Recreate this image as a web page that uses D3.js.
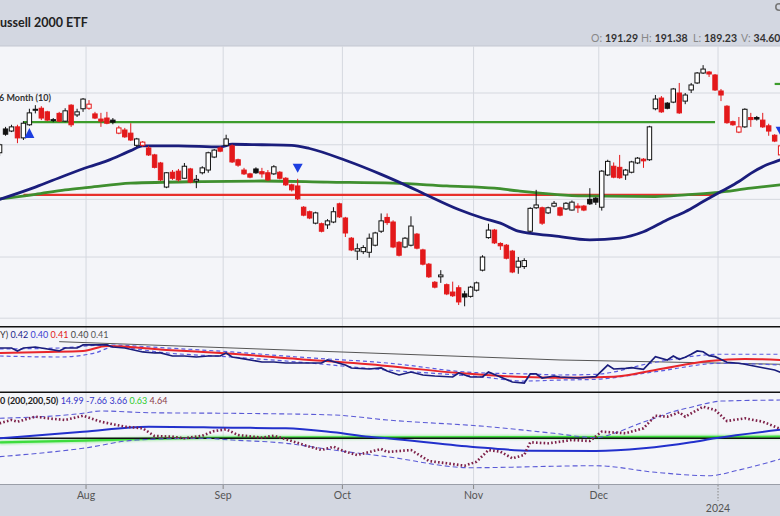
<!DOCTYPE html>
<html><head><meta charset="utf-8">
<script src="https://cdn.jsdelivr.net/npm/d3@7"></script>
<style>html,body{margin:0;padding:0;background:#fff;}svg{display:block;font-family:Lato,"Open Sans",sans-serif;}</style>
</head><body><svg id="c" width="780" height="516"></svg>
<script>
// ---------------- DATA ----------------
const dates = ["2023-07-11","2023-07-12","2023-07-13","2023-07-14","2023-07-17","2023-07-18","2023-07-19","2023-07-20","2023-07-21","2023-07-24","2023-07-25","2023-07-26","2023-07-27","2023-07-28","2023-07-31",
"2023-08-01","2023-08-02","2023-08-03","2023-08-04","2023-08-07","2023-08-08","2023-08-09","2023-08-10","2023-08-11","2023-08-14","2023-08-15","2023-08-16","2023-08-17","2023-08-18","2023-08-21","2023-08-22","2023-08-23","2023-08-24","2023-08-25","2023-08-28","2023-08-29","2023-08-30","2023-08-31",
"2023-09-01","2023-09-05","2023-09-06","2023-09-07","2023-09-08","2023-09-11","2023-09-12","2023-09-13","2023-09-14","2023-09-15","2023-09-18","2023-09-19","2023-09-20","2023-09-21","2023-09-22","2023-09-25","2023-09-26","2023-09-27","2023-09-28","2023-09-29",
"2023-10-02","2023-10-03","2023-10-04","2023-10-05","2023-10-06","2023-10-09","2023-10-10","2023-10-11","2023-10-12","2023-10-13","2023-10-16","2023-10-17","2023-10-18","2023-10-19","2023-10-20","2023-10-23","2023-10-24","2023-10-25","2023-10-26","2023-10-27","2023-10-30","2023-10-31",
"2023-11-01","2023-11-02","2023-11-03","2023-11-06","2023-11-07","2023-11-08","2023-11-09","2023-11-10","2023-11-13","2023-11-14","2023-11-15","2023-11-16","2023-11-17","2023-11-20","2023-11-21","2023-11-22","2023-11-24","2023-11-27","2023-11-28","2023-11-29","2023-11-30",
"2023-12-01","2023-12-04","2023-12-05","2023-12-06","2023-12-07","2023-12-08","2023-12-11","2023-12-12","2023-12-13","2023-12-14","2023-12-15","2023-12-18","2023-12-19","2023-12-20","2023-12-21","2023-12-22","2023-12-26","2023-12-27","2023-12-28","2023-12-29",
"2024-01-02","2024-01-03","2024-01-04","2024-01-05","2024-01-08","2024-01-09","2024-01-10","2024-01-11","2024-01-12","2024-01-16","2024-01-17"];

const open = [188.5,193.0,192.6,193.4,191.3,193.8,196.6,197.0,196.3,194.7,
196.0,194.5,197.6,195.7,196.9,197.0,195.9,194.9,195.1,194.7,
192.2,192.8,192.2,189.9,189.9,189.4,188.1,186.6,182.2,184.9,
185.1,183.8,185.5,183.3,184.8,185.3,187.7,189.4,189.9,189.8,
187.2,185.3,184.6,185.5,185.0,184.8,184.6,184.9,183.8,182.6,
182.4,178.6,177.8,175.8,175.7,175.5,176.0,179.2,176.7,173.2,
171.0,170.9,170.8,172.0,174.4,176.8,176.0,172.5,171.7,172.0,
173.9,171.2,168.8,165.8,166.7,165.4,164.2,164.9,163.9,163.5,
164.5,167.8,173.3,174.6,172.3,172.0,171.0,168.3,168.4,174.4,
178.5,178.5,177.6,178.8,178.5,178.3,178.1,178.8,178.8,180.0,
180.2,178.6,184.4,186.0,185.8,184.4,184.9,186.6,187.3,187.2,
196.9,199.0,198.0,198.2,200.0,198.4,200.6,202.0,204.0,204.2,
203.6,200.4,197.4,194.4,192.4,193.4,195.2,195.2,194.7,193.6,
191.8,188.1];
const high = [190.3,193.4,193.8,193.8,194.5,196.9,197.6,197.4,196.5,195.1,
196.3,197.0,197.8,196.9,199.0,198.6,196.3,196.1,196.3,195.1,
193.6,193.2,194.1,191.3,190.7,189.8,188.3,186.8,184.9,185.3,
185.5,186.6,185.7,184.4,186.0,188.7,189.2,189.7,191.9,190.1,
187.4,185.7,184.8,185.8,185.7,185.3,186.2,185.1,184.0,182.8,
183.7,178.8,178.0,177.8,175.9,176.5,178.6,179.4,176.9,173.4,
172.3,172.0,174.0,174.3,177.5,177.5,176.3,172.7,173.4,177.0,
174.1,171.4,169.0,166.0,167.8,165.6,165.9,165.3,164.4,165.2,
165.9,170.3,175.7,174.8,172.5,172.2,171.2,170.0,169.8,178.6,
181.7,178.7,178.7,179.7,178.7,179.5,179.8,179.3,179.0,182.0,
180.4,185.3,187.2,186.7,188.1,185.5,187.0,187.7,187.5,193.6,
199.6,199.4,198.2,201.0,202.0,200.0,202.0,204.2,205.6,204.4,
203.8,200.8,197.6,194.6,195.3,197.0,196.1,195.5,196.1,194.0,
192.0,190.2];
const low = [187.9,191.7,192.4,190.3,190.9,193.6,196.0,194.7,194.5,194.3,
194.3,194.3,193.4,195.3,196.3,196.7,194.9,193.4,193.9,193.9,
192.0,191.3,190.7,189.6,189.6,187.9,185.6,183.3,182.0,183.5,
183.2,183.7,182.9,182.0,184.5,184.8,187.5,188.6,189.8,186.6,
185.9,184.4,183.8,184.6,183.9,183.3,184.4,183.6,182.4,181.4,
179.9,177.0,176.5,175.6,174.2,174.8,175.8,176.7,173.4,171.0,
169.5,170.5,169.9,171.8,174.1,175.5,171.5,170.1,171.5,171.8,
171.3,168.6,166.5,164.8,165.7,163.7,163.4,162.1,161.9,163.3,
164.3,167.6,173.1,172.2,171.2,169.6,167.3,167.2,168.0,174.2,
178.3,175.5,177.4,178.6,177.0,178.1,178.0,177.6,177.9,179.0,
179.0,178.0,184.2,183.8,183.7,183.5,184.7,186.4,185.7,187.0,
196.6,196.1,196.8,198.0,195.9,197.8,200.0,201.8,203.8,203.2,
200.4,198.4,194.0,193.6,192.2,193.2,193.4,194.6,193.2,191.7,
190.5,187.9];
const close = [190.0,192.0,193.4,191.3,194.1,196.1,196.8,195.1,194.7,194.8,
194.5,196.5,193.8,196.3,198.8,197.8,195.1,194.5,194.1,194.3,
193.2,191.5,190.9,191.1,190.5,188.1,185.8,183.5,184.8,183.8,
183.5,186.0,183.1,183.6,185.7,188.5,189.0,188.8,191.1,186.8,
186.2,184.6,184.0,184.8,184.6,183.5,185.9,183.8,182.6,181.7,
180.1,177.2,176.7,177.6,174.4,176.2,177.8,176.9,174.1,171.2,
171.4,171.6,173.2,174.1,176.2,175.9,171.7,170.3,173.2,175.3,
171.5,168.8,166.7,165.0,167.0,163.9,163.6,162.6,163.4,165.0,
165.7,170.0,174.6,172.4,171.9,169.8,167.5,169.3,169.4,178.4,
179.0,175.8,178.5,179.3,177.2,179.3,179.5,178.5,178.1,179.2,
179.5,185.1,186.9,184.0,183.9,185.3,186.8,187.5,187.0,193.4,
198.8,196.3,197.0,200.8,196.1,199.6,201.6,204.0,204.8,203.8,
200.6,199.6,194.2,193.8,193.4,196.8,194.8,194.9,193.4,192.6,
190.7,189.8];

// moving averages on price (date, value)
const maBlue = [["2023-07-11",180.0],["2023-07-19",182.2],["2023-07-26",184.3],["2023-08-01",185.9],["2023-08-04",187.0],["2023-08-10",188.9],["2023-08-14",189.8],["2023-08-22",189.8],["2023-08-31",189.6],["2023-09-05",190.1],["2023-09-12",190.0],["2023-09-19",189.9],["2023-09-22",189.3],["2023-10-02",187.1],["2023-10-10",184.5],["2023-10-17",182.1],["2023-10-19",181.1],["2023-10-27",178.2],["2023-11-02",176.7],["2023-11-07",175.8],["2023-11-10",174.4],["2023-11-20",173.6],["2023-11-29",172.9],["2023-12-06",173.2],["2023-12-12",174.3],["2023-12-18",176.4],["2023-12-21",177.8],["2023-12-27",179.6],["2024-01-02",181.4],["2024-01-05",183.2],["2024-01-09",184.7],["2024-01-12",186.4],["2024-01-17",187.2]];
const maGreen = [["2023-07-11",180.06],["2023-07-19",180.9],["2023-07-26",181.7],["2023-08-01",182.15],["2023-08-10",182.9],["2023-08-28",183.2],["2023-09-12",183.3],["2023-09-27",183.1],["2023-10-12",182.9],["2023-10-25",182.4],["2023-11-06",182.0],["2023-11-10",181.5],["2023-11-28",180.6],["2023-12-14",180.5],["2023-12-21",180.8],["2023-12-29",181.2],["2024-01-09",182.0],["2024-01-17",182.6]];
// horizontal levels: [from, to, price, colour key]
const levels = [["2023-07-17","2023-12-29",194.3,"green"],["2023-07-17","2023-12-29",180.8,"red"],["2024-01-16","2024-01-17",201.8,"green"]];
// signal markers: [date, price, direction]
const markers = [["2023-07-18",193.2,"up"],["2023-09-20",184.8,"down"],["2024-01-17",191.7,"down"]];

// ratio panel (IWM:SPY)
const ratio = [["2023-07-11",.4304],["2023-07-13",.4304],["2023-07-14",.4269],["2023-07-17",.4304],["2023-07-19",.4316],["2023-07-20",.4304],["2023-07-25",.4269],["2023-07-26",.4304],["2023-07-28",.4304],["2023-07-31",.434],["2023-08-02",.434],["2023-08-04",.434],["2023-08-07",.4316],["2023-08-09",.4304],["2023-08-14",.4257],["2023-08-16",.4245],["2023-08-17",.4245],["2023-08-21",.4209],["2023-08-23",.4209],["2023-08-25",.4197],["2023-08-29",.4209],["2023-08-31",.4209],["2023-09-01",.4245],["2023-09-05",.4197],["2023-09-07",.4174],["2023-09-12",.4138],["2023-09-14",.4138],["2023-09-18",.4126],["2023-09-22",.4126],["2023-09-26",.4126],["2023-09-27",.4162],["2023-10-02",.4102],["2023-10-03",.4067],["2023-10-06",.4055],["2023-10-10",.4067],["2023-10-11",.4031],["2023-10-13",.3984],["2023-10-17",.4019],["2023-10-19",.3984],["2023-10-23",.3972],["2023-10-26",.396],["2023-10-27",.4007],["2023-10-31",.396],["2023-11-02",.396],["2023-11-03",.4019],["2023-11-07",.396],["2023-11-09",.3901],["2023-11-13",.3889],["2023-11-14",.3996],["2023-11-15",.3996],["2023-11-16",.3948],["2023-11-20",.3972],["2023-11-21",.396],["2023-11-27",.3948],["2023-11-29",.396],["2023-11-30",.3964],["2023-12-04",.4102],["2023-12-05",.4055],["2023-12-07",.4063],["2023-12-08",.407],["2023-12-12",.4051],["2023-12-14",.4201],["2023-12-18",.4162],["2023-12-19",.4209],["2023-12-20",.417],["2023-12-21",.4194],["2023-12-22",.4229],["2023-12-26",.4269],["2023-12-27",.426],["2023-12-28",.4213],["2023-12-29",.4201],["2024-01-03",.4135],["2024-01-05",.4123],["2024-01-08",.4111],["2024-01-11",.407],["2024-01-16",.4043],["2024-01-17",.4016]];
const ratioMA = [["2023-07-11",.4245],["2023-07-21",.4257],["2023-07-31",.4269],["2023-08-04",.4328],["2023-08-18",.4281],["2023-08-31",.4245],["2023-09-20",.4174],["2023-10-11",.4091],["2023-10-27",.4007],["2023-11-13",.396],["2023-11-21",.3952],["2023-12-05",.3964],["2023-12-14",.4043],["2023-12-28",.415],["2024-01-08",.4174],["2024-01-17",.4162]];
const ratioUpper = [["2023-07-11",.4292],["2023-07-25",.4304],["2023-08-04",.434],["2023-08-18",.4304],["2023-09-05",.4257],["2023-09-20",.4197],["2023-10-11",.4126],["2023-11-01",.4011],["2023-11-14",.3996],["2023-11-21",.3984],["2023-11-30",.3992],["2023-12-14",.4135],["2024-01-02",.423],["2024-01-17",.423]];
const ratioLower = [["2023-07-11",.4209],["2023-07-25",.4197],["2023-08-02",.4245],["2023-08-07",.4316],["2023-08-18",.4245],["2023-09-05",.4197],["2023-09-20",.4138],["2023-10-11",.4043],["2023-11-02",.396],["2023-11-13",.3912],["2023-11-21",.3924],["2023-11-30",.3933],["2023-12-14",.4023],["2024-01-02",.4123],["2024-01-17",.4102]];
const ratioTrend = [["2023-07-25",.4379],["2023-11-21",.4162],["2024-01-17",.4111]];
const ratioLabel = [["Y)","#333"],["0.42","#1b1f8a"],["0.40","#3b3bd0"],["0.41","#e02020"],["0.40","#444"],["0.41","#555"]];

// oscillator panel
const oscMain = [["2023-07-11",0],["2023-07-31",2.59],["2023-08-15",4.55],["2023-09-05",4.16],["2023-09-18",3.92],["2023-09-28",2.35],["2023-10-06",0.63],["2023-10-11",0],["2023-10-31",-3.29],["2023-11-14",-4.86],["2023-11-30",-4.98],["2023-12-12",-3.92],["2023-12-22",-1.57],["2023-12-29",0],["2024-01-17",3.4]];
const oscUpper = [["2023-07-11",7.84],["2023-07-31",9.8],["2023-08-03",10.71],["2023-08-15",10.04],["2023-09-05",9.8],["2023-09-28",9.14],["2023-10-11",7.18],["2023-11-03",4.55],["2023-11-20",1.96],["2023-11-30",0.24],["2023-12-06",2.7],["2023-12-11",5.5],["2023-12-14",8.0],["2023-12-19",10.5],["2023-12-22",12.2],["2023-12-28",13.9],["2024-01-02",14.6],["2024-01-17",15.0]];
const oscLower = [["2023-07-11",-7.22],["2023-07-31",-3.92],["2023-08-11",-0.67],["2023-08-28",0],["2023-09-05",-0.67],["2023-09-18",-1.96],["2023-09-28",-4.59],["2023-10-11",-7.22],["2023-10-31",-11.53],["2023-11-30",-10.75],["2023-12-14",-13.33],["2023-12-28",-14.67],["2024-01-05",-12.43],["2024-01-17",-8.12]];
const oscDotted = [["2023-07-11",5.88],["2023-07-13",7.18],["2023-07-14",6.51],["2023-07-19",8.47],["2023-07-21",7.84],["2023-07-26",7.18],["2023-07-31",8.86],["2023-08-03",6.51],["2023-08-09",4.55],["2023-08-14",3.92],["2023-08-16",0.9],["2023-08-21",0.63],["2023-08-23",0],["2023-08-28",1.02],["2023-08-30",2.86],["2023-09-01",3.53],["2023-09-06",1.29],["2023-09-12",0.24],["2023-09-14",1.02],["2023-09-19",-1.06],["2023-09-22",-3.29],["2023-09-26",-4.59],["2023-09-28",-3.29],["2023-10-02",-5.25],["2023-10-04",-6.55],["2023-10-10",-4.2],["2023-10-11",-5.37],["2023-10-17",-4.59],["2023-10-20",-8.9],["2023-10-25",-9.8],["2023-10-30",-10.75],["2023-11-01",-9.18],["2023-11-03",-4.59],["2023-11-07",-5.25],["2023-11-09",-7.84],["2023-11-13",-6.55],["2023-11-14",-1.57],["2023-11-17",-1.96],["2023-11-21",-1.33],["2023-11-24",-0.67],["2023-11-29",-1.06],["2023-12-01",2.59],["2023-12-07",1.96],["2023-12-12",3.92],["2023-12-14",8.86],["2023-12-18",8.47],["2023-12-20",10.2],["2023-12-21",8.47],["2023-12-27",12.39],["2023-12-29",11.1],["2024-01-03",6.78],["2024-01-08",7.84],["2024-01-11",6.51],["2024-01-17",3.65]];
const oscGreen = [["2023-07-11",-1.6],["2023-07-31",-0.9],["2023-08-28",0.2],["2023-10-11",0.4],["2023-11-30",0.5],["2024-01-17",0.63]];
const oscLabel = [["0 (200,200,50)","#222"],["14.99","#3434c8"],["-7.66","#3434c8"],["3.66","#3434c8"],["0.63","#2ecc2e"],["4.64","#8a3a4a"]];

const priceGrid = [160,170,180,190,200,210];
const ohlcHeader = [["O:","191.29"],["H:","191.38"],["L:","189.23"],["V:","34.60"]];
const title = "ussell 2000 ETF";
const levelLabel = "6 Month (10)";

// ---------------- CHART ----------------
const W=780,H=516;
const svg=d3.select("#c");
const parse=d3.timeParse("%Y-%m-%d");
const x=d3.scaleBand().domain(dates).range([-3.4,783.6]).padding(0);
const step=x.step();
const cx=d=>x(d)+step/2;
const bodyW=step*0.74;
const yM=d3.scaleLog().domain([160,200]).range([318.2,93]);
const yR=d3.scaleLinear().domain([0.38,0.44]).range([390.5,339.9]);
const yO=d3.scaleLinear().domain([-10,10]).range([463.8,412.8]);
const C={bg:"#f4f5f9",band:"#d3d7e1",grid:"#d5d8df",red:"#e3191b",black:"#111",navy:"#1a1d7c",green:"#3f8f2f",lvlGreen:"#3c9c2c",lvlRed:"#e8302c",tri:"#1c3ee0"};

svg.append("rect").attr("width",W).attr("height",H).attr("fill",C.band);
svg.append("rect").attr("x",0).attr("y",46).attr("width",W).attr("height",438).attr("fill",C.bg);
svg.append("line").attr("x1",0).attr("x2",W).attr("y1",46).attr("y2",46).attr("stroke","#c3c7d1");

const defs=svg.append("defs");
function clip(id,y0,y1){defs.append("clipPath").attr("id",id).append("rect").attr("x",0).attr("y",y0).attr("width",W).attr("height",y1-y0);}
clip("cm",46,326);clip("c1",327,391.5);clip("c2",392.5,484);
const blur=defs.append("filter").attr("id","glow").attr("x","-5%").attr("y","-50%").attr("width","110%").attr("height","200%");
blur.append("feGaussianBlur").attr("stdDeviation",1.1);

// month gridlines
const monthStarts=dates.filter((d,i)=>i>0&&parse(d).getMonth()!==parse(dates[i-1]).getMonth());
svg.append("g").selectAll("line").data(monthStarts).join("line")
  .attr("x1",d=>x(d)).attr("x2",d=>x(d)).attr("y1",46).attr("y2",484)
  .attr("stroke",C.grid).attr("stroke-width",1);

// ----- main panel -----
const gm=svg.append("g").attr("clip-path","url(#cm)");
gm.selectAll("line.h").data(priceGrid).join("line").attr("class","h")
  .attr("x1",0).attr("x2",W).attr("y1",d=>yM(d)).attr("y2",d=>yM(d)).attr("stroke",C.grid);

gm.selectAll("line.lvl").data(levels).join("line").attr("class","lvl")
  .attr("x1",d=>cx(d[0])).attr("x2",d=>d[1]===dates[dates.length-1]?W+5:cx(d[1]))
  .attr("y1",d=>yM(d[2])).attr("y2",d=>yM(d[2]))
  .attr("stroke",d=>d[3]==="green"?C.lvlGreen:C.lvlRed).attr("stroke-width",2.2);

const lineM=d3.line().x(d=>cx(d[0])).y(d=>yM(d[1])).curve(d3.curveMonotoneX);
gm.append("path").attr("d",lineM(maGreen)).attr("fill","none").attr("stroke",C.green).attr("stroke-width",2.8);
gm.append("path").attr("d",lineM(maBlue)).attr("fill","none").attr("stroke",C.navy).attr("stroke-width",2.8);

const idx=d3.range(dates.length);
const col=i=>(i>0&&close[i]<close[i-1])?C.red:C.black;
const cg=gm.append("g");
cg.selectAll("line").data(idx).join("line")
  .attr("x1",i=>cx(dates[i])).attr("x2",i=>cx(dates[i]))
  .attr("y1",i=>yM(high[i])).attr("y2",i=>yM(low[i]))
  .attr("stroke",col).attr("stroke-width",1);
cg.selectAll("rect").data(idx).join("rect")
  .attr("x",i=>cx(dates[i])-bodyW/2).attr("width",bodyW)
  .attr("y",i=>yM(Math.max(open[i],close[i])))
  .attr("height",i=>Math.max(1,Math.abs(yM(open[i])-yM(close[i]))))
  .attr("fill",i=>close[i]<open[i]?col(i):"#ffffff")
  .attr("stroke",col).attr("stroke-width",1);

gm.selectAll("path.tri").data(markers).join("path").attr("class","tri")
  .attr("d",d=>{const X=cx(d[0]),Y=yM(d[1]);return d[2]==="up"?`M${X},${Y}L${X-5},${Y+10}L${X+5},${Y+10}Z`:`M${X},${Y}L${X-5},${Y-9}L${X+5},${Y-9}Z`;})
  .attr("fill",C.tri);

svg.append("text").attr("x",-1).attr("y",101).attr("font-size",9).attr("font-weight",700).attr("fill","#333").text(levelLabel);

// ----- panel 1 -----
const g1=svg.append("g").attr("clip-path","url(#c1)");
const lineR=d3.line().x(d=>cx(d[0])).y(d=>yR(d[1]));
g1.append("path").attr("d",lineR(ratioTrend)).attr("fill","none").attr("stroke","#555").attr("stroke-width",1);
g1.append("path").attr("d",lineR.curve(d3.curveMonotoneX)(ratioUpper)).attr("fill","none").attr("stroke","#5b5be0").attr("stroke-width",1.2).attr("stroke-dasharray","4,3");
g1.append("path").attr("d",lineR.curve(d3.curveMonotoneX)(ratioLower)).attr("fill","none").attr("stroke","#5b5be0").attr("stroke-width",1.2).attr("stroke-dasharray","4,3");
g1.append("path").attr("d",lineR.curve(d3.curveMonotoneX)(ratioMA)).attr("fill","none").attr("stroke","#e8262b").attr("stroke-width",2);
g1.append("path").attr("d",lineR.curve(d3.curveLinear)(ratio)).attr("fill","none").attr("stroke",C.navy).attr("stroke-width",1.7);
const t1=svg.append("text").attr("x",0).attr("y",338).attr("font-size",9);
ratioLabel.forEach((d,i)=>t1.append("tspan").attr("fill",d[1]).text((i?" ":"")+d[0]));

// ----- panel 2 -----
const g2=svg.append("g").attr("clip-path","url(#c2)");
const lineO=d3.line().x(d=>cx(d[0])).y(d=>yO(d[1])).curve(d3.curveMonotoneX);
g2.append("path").attr("d",lineO(oscGreen)).attr("fill","none").attr("stroke","#33e033").attr("stroke-width",4).attr("opacity",0.4).attr("filter","url(#glow)");
g2.append("path").attr("d",lineO(oscGreen)).attr("fill","none").attr("stroke","#3ddc3d").attr("stroke-width",2.2);
g2.append("line").attr("x1",0).attr("x2",W).attr("y1",yO(0)).attr("y2",yO(0)).attr("stroke","#111").attr("stroke-width",1.6);
g2.append("path").attr("d",lineO(oscUpper)).attr("fill","none").attr("stroke","#5a5ad6").attr("stroke-width",1.1).attr("stroke-dasharray","5,3");
g2.append("path").attr("d",lineO(oscLower)).attr("fill","none").attr("stroke","#5a5ad6").attr("stroke-width",1.1).attr("stroke-dasharray","5,3");
g2.append("path").attr("d",lineO(oscMain)).attr("fill","none").attr("stroke","#2230cc").attr("stroke-width",2);
g2.append("path").attr("d",d3.line().x(d=>cx(d[0])).y(d=>yO(d[1]))(oscDotted)).attr("fill","none").attr("stroke","#7d2048").attr("stroke-width",2.6).attr("stroke-dasharray","1.6,2.2");
const t2=svg.append("text").attr("x",0).attr("y",404).attr("font-size",9);
oscLabel.forEach((d,i)=>t2.append("tspan").attr("fill",d[1]).attr("font-weight",i?400:700).text((i?" ":"")+d[0]));

// panel borders
[326.7,392.2].forEach(y=>svg.append("line").attr("x1",0).attr("x2",W).attr("y1",y).attr("y2",y).attr("stroke","#111").attr("stroke-width",1.4));
svg.append("line").attr("x1",0).attr("x2",W).attr("y1",484.5).attr("y2",484.5).attr("stroke","#9a9ea8").attr("stroke-width",1);

// x axis labels
const fmtM=d3.timeFormat("%b");
const ax=svg.append("g");
monthStarts.forEach(d=>{
  const X=x(d),dt=parse(d);
  if(dt.getMonth()===0){
    ax.append("line").attr("x1",X).attr("x2",X).attr("y1",485).attr("y2",501).attr("stroke","#888").attr("stroke-dasharray","1.5,1.5");
    ax.append("text").attr("x",X).attr("y",512).attr("text-anchor","middle").attr("font-size",10.5).attr("fill","#555").text(d3.timeFormat("%Y")(dt));
  } else {
    ax.append("line").attr("x1",X).attr("x2",X).attr("y1",485).attr("y2",489).attr("stroke","#888");
    ax.append("text").attr("x",X).attr("y",499).attr("text-anchor","middle").attr("font-size",10.5).attr("fill","#555").text(fmtM(dt));
  }
});

// header
svg.append("text").attr("x",0).attr("y",27).attr("font-size",12.5).attr("font-weight",700).attr("fill","#222").text(title);
const hx=[591,641,693,741];
ohlcHeader.forEach((d,i)=>{
  const t=svg.append("text").attr("x",hx[i]).attr("y",42).attr("font-size",10.5);
  t.append("tspan").attr("fill","#888").text(d[0]);
  t.append("tspan").attr("fill","#333").attr("font-weight",700).attr("dx",3).text(d[1]);
});
// settings icon (partially visible at the edge)
svg.append("circle").attr("cx",779).attr("cy",7).attr("r",3.2).attr("fill","none").attr("stroke","#777").attr("stroke-width",1.6);
</script></body></html>
